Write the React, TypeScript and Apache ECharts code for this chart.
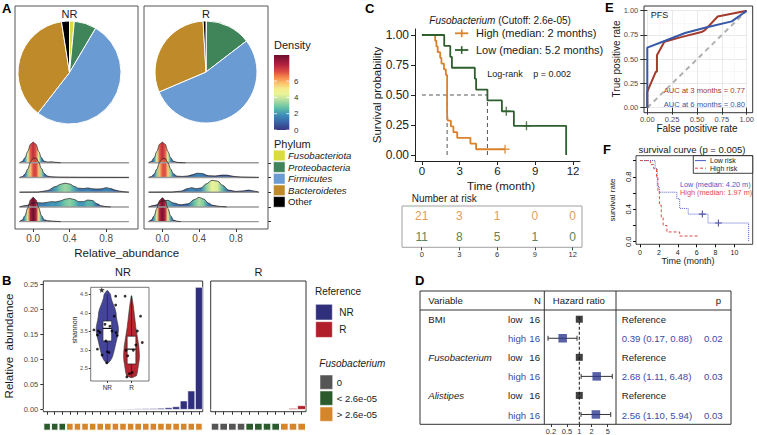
import React, { useEffect, useRef } from 'react';
import * as echarts from 'echarts';

const FONT = '"Liberation Sans", Arial, Helvetica, sans-serif';

/* ---------------- Panel A : pies + ridges ---------------- */
const PHYLA = ['Fusobacteriota', 'Proteobacteria', 'Firmicutes', 'Bacteroidetes', 'Other'];
const PHYLA_ITALIC = [true, true, true, true, false];
const PHYLA_COLORS = ['#D9DB3F', '#3F8559', '#6A9BD3', '#BF8A29', '#000000'];
const PIE_NR = [1.5, 7, 52, 37, 2.5];
const PIE_R = [0.1, 14.5, 54, 30.5, 0.9];
const DENSITY_TICKS = [0, 2, 4, 6];
const DENSITY_MAX = 9.2;
const RIDGE_X_TICKS = [0, 0.4, 0.8];

// [relative abundance, density] (rows top to bottom)
const RIDGE_NR_1 = [[-0.15, 0], [-0.12, 0.5], [-0.09, 1.9], [-0.06, 4.3], [-0.03, 7.0], [0, 7.8], [0.03, 7.0], [0.06, 4.3], [0.09, 1.9], [0.12, 0.6], [0.16, 0.25], [0.2, 0.35], [0.25, 0.15], [0.3, 0]];
const RIDGE_NR_2 = [[-0.15, 0], [-0.12, 0.3], [-0.09, 1.3], [-0.06, 3.2], [-0.03, 5.8], [0, 7.2], [0.03, 7.4], [0.06, 5.8], [0.09, 3.4], [0.12, 1.5], [0.16, 0.5], [0.2, 0.25], [0.3, 0.12], [0.5, 0.06], [0.7, 0.04], [1.05, 0]];
const RIDGE_NR_3 = [[-0.15, 0], [0.05, 0.05], [0.15, 0.6], [0.25, 2.2], [0.3, 3.0], [0.35, 3.4], [0.4, 3.1], [0.45, 2.2], [0.5, 1.5], [0.55, 1.4], [0.6, 1.6], [0.65, 1.3], [0.7, 1.2], [0.75, 1.3], [0.8, 1.7], [0.85, 1.4], [0.9, 0.8], [0.95, 0.4], [1.0, 0.15], [1.05, 0]];
const RIDGE_NR_4 = [[-0.15, 0], [-0.08, 0.5], [0, 1.5], [0.05, 1.6], [0.1, 1.5], [0.15, 1.7], [0.2, 2.0], [0.25, 1.9], [0.3, 2.3], [0.35, 2.9], [0.4, 3.2], [0.45, 2.8], [0.5, 2.0], [0.55, 2.0], [0.6, 2.6], [0.65, 2.4], [0.7, 1.2], [0.75, 0.4], [0.8, 0.1], [0.85, 0]];
const RIDGE_NR_5 = [[-0.15, 0], [-0.12, 0.6], [-0.09, 2.3], [-0.06, 5.2], [-0.03, 8.2], [0, 9.2], [0.03, 8.2], [0.06, 5.2], [0.09, 2.3], [0.12, 0.7], [0.16, 0.3], [0.2, 0.25], [0.25, 0.1], [0.3, 0]];
const RIDGE_R_1 = [[-0.15, 0], [-0.12, 0.5], [-0.09, 1.9], [-0.06, 4.3], [-0.03, 7.0], [0, 7.8], [0.03, 7.0], [0.06, 4.3], [0.09, 1.9], [0.12, 0.6], [0.16, 0.15], [0.2, 0.05], [0.25, 0]];
const RIDGE_R_2 = [[-0.15, 0], [-0.12, 0.3], [-0.09, 1.3], [-0.06, 3.2], [-0.03, 5.8], [0, 7.0], [0.03, 7.2], [0.06, 5.6], [0.09, 3.2], [0.12, 1.4], [0.16, 0.5], [0.22, 0.4], [0.28, 0.6], [0.32, 1.0], [0.38, 1.6], [0.43, 1.5], [0.5, 0.7], [0.58, 0.6], [0.65, 0.9], [0.7, 0.9], [0.78, 0.4], [0.85, 0.2], [0.95, 0.1], [1.05, 0]];
const RIDGE_R_3 = [[-0.15, 0], [0.1, 0.05], [0.2, 0.4], [0.28, 1.4], [0.32, 1.7], [0.37, 1.3], [0.42, 1.6], [0.48, 3.2], [0.54, 4.5], [0.6, 4.2], [0.66, 2.5], [0.72, 0.8], [0.8, 0.3], [0.88, 0.5], [0.94, 0.8], [1.0, 0.4], [1.05, 0]];
const RIDGE_R_4 = [[-0.15, 0], [-0.08, 0.6], [0, 2.2], [0.06, 2.5], [0.12, 1.5], [0.2, 0.8], [0.28, 1.2], [0.35, 2.8], [0.4, 3.6], [0.45, 3.0], [0.5, 1.5], [0.55, 0.6], [0.62, 0.2], [0.7, 0]];
const RIDGE_R_5 = [[-0.15, 0], [-0.12, 0.6], [-0.09, 2.2], [-0.06, 5.0], [-0.03, 8.0], [0, 9.0], [0.03, 8.0], [0.06, 5.0], [0.09, 2.2], [0.12, 0.6], [0.16, 0.15], [0.2, 0]];
const RIDGES_NR = [RIDGE_NR_1, RIDGE_NR_2, RIDGE_NR_3, RIDGE_NR_4, RIDGE_NR_5];
const RIDGES_R = [RIDGE_R_1, RIDGE_R_2, RIDGE_R_3, RIDGE_R_4, RIDGE_R_5];

/* ---------------- Panel B ---------------- */
const NR_ABUND = [0.0002, 0.0003, 0.0003, 0.0004, 0.0005, 0.0006, 0.0008, 0.001, 0.0012, 0.0015, 0.0018, 0.002, 0.0023, 0.0026, 0.003, 0.0035, 0.0045, 0.0065, 0.018, 0.038, 0.245];
const NR_FUSO = ['low', 'low', 'low', 'high', 'high', 'high', 'high', 'high', 'high', 'high', 'high', 'high', 'high', 'high', 'high', 'high', 'high', 'high', 'high', 'high', 'high'];
const R_ABUND = [0.0003, 0.0003, 0.0003, 0.0003, 0.0004, 0.0004, 0.0005, 0.0005, 0.0012, 0.0033, 0.0086];
const R_FUSO = ['zero', 'zero', 'zero', 'zero', 'low', 'low', 'low', 'low', 'high', 'high', 'high'];
const ABUND_TICKS = [0, 0.05, 0.1, 0.15, 0.2, 0.25];
const FUSO_LEVELS = ['zero', 'low', 'high'];
const FUSO_LABELS = ['0', '< 2.6e-05', '> 2.6e-05'];
const FUSO_COLORS = { zero: '#555555', low: '#2B5B2C', high: '#D5862B' };
const REF_GROUPS = ['NR', 'R'];
const REF_COLORS = { NR: '#2F2F7C', R: '#B01F2A' };

const SHANNON_TICKS = [2.5, 3, 3.5, 4, 4.5];
const SHANNON_POS = [0.57, 1.4];
const VIOLIN_NR_Y = [2.64, 2.7, 2.8, 2.9, 3.0, 3.1, 3.2, 3.3, 3.4, 3.5, 3.6, 3.7, 3.8, 3.9, 4.0, 4.1, 4.2, 4.3, 4.4, 4.5, 4.6];
const VIOLIN_NR_W = [0.02, 0.1, 0.17, 0.21, 0.24, 0.27, 0.3, 0.33, 0.36, 0.38, 0.38, 0.36, 0.33, 0.31, 0.3, 0.27, 0.22, 0.17, 0.13, 0.11, 0.02];
const VIOLIN_R_Y = [2.25, 2.3, 2.4, 2.5, 2.6, 2.7, 2.8, 2.9, 3.0, 3.1, 3.2, 3.4, 3.6, 3.8, 4.0, 4.2, 4.35, 4.46];
const VIOLIN_R_W = [0.02, 0.17, 0.2, 0.22, 0.24, 0.26, 0.27, 0.27, 0.26, 0.25, 0.23, 0.19, 0.15, 0.12, 0.09, 0.06, 0.03, 0.01];
const BOX_NR = [2.65, 3.24, 3.58, 3.78, 4.5];
const BOX_R = [2.27, 2.62, 3.02, 3.37, 4.45];
const SHANNON_NR_PTS = [[0.857, 4.45], [0.857, 4.21], [0.81, 3.91], [0.11, 3.54], [0.26, 3.51], [0.32, 3.47], [0.23, 3.4], [0.87, 3.47], [0.91, 3.39], [0.52, 3.24], [0.23, 3.02], [0.57, 2.95], [0.63, 2.93], [0.39, 2.86], [0.55, 2.65], [0.66, 3.64], [0.49, 3.69], [0.73, 3.51]];
const SHANNON_NR_STAR = [[0.38, 4.62]];
const SHANNON_R_PTS = [[1.18, 4.45], [1.71, 3.91], [1.6, 3.51], [1.77, 3.2], [1.21, 2.99], [1.27, 2.84], [1.46, 2.99], [1.33, 2.36], [1.42, 2.39], [1.24, 2.27], [1.55, 3.13]];

/* ---------------- Panel C ---------------- */
const KM_TICKS = [0, 3, 6, 9, 12];
const KM_Y_TICKS = [0, 0.25, 0.5, 0.75, 1];
const KM_HIGH_T = [0, 1.05, 1.15, 1.25, 1.45, 1.55, 1.75, 1.9, 2.0, 2.05, 2.3, 2.5, 2.8, 3.85, 4.3, 6.6];
const KM_HIGH_S = [1, 0.952, 0.905, 0.857, 0.81, 0.762, 0.714, 0.667, 0.333, 0.286, 0.238, 0.19, 0.143, 0.095, 0.048, 0.048];
const KM_LOW_T = [0, 1.77, 2.25, 2.38, 4.2, 4.3, 5.2, 6.35, 7.3, 11.45];
const KM_LOW_S = [1, 0.909, 0.818, 0.727, 0.636, 0.545, 0.455, 0.364, 0.243, 0];
const KM_HIGH_CENSOR = [[6.6, 0.048]];
const KM_LOW_CENSOR = [[6.7, 0.364], [8.3, 0.243]];
const MEDIAN_HIGH = 2.0;
const MEDIAN_LOW = 5.2;
const RISK_TIMES = [0, 3, 6, 9, 12];
const RISK_HIGH = [21, 3, 1, 0, 0];
const RISK_LOW = [11, 8, 5, 1, 0];
const KM_COLORS = { High: '#D9822B', Low: '#2F5E2F' };

/* ---------------- Panel E ---------------- */
const ROC3 = [[0, 0], [0, 0.165], [0.085, 0.37], [0.097, 0.37], [0.097, 0.54], [0.172, 0.68], [0.35, 0.73], [0.545, 0.78], [0.58, 0.8], [0.708, 0.94], [1, 1]];
const ROC6 = [[0, 0], [0, 0.62], [0.18, 0.69], [0.38, 0.77], [0.6, 0.83], [0.85, 0.89], [1, 1]];

/* ---------------- Panel F ---------------- */
const F_LOW_T = [0, 1.6, 1.83, 2.05, 3.9, 4.2, 5.1, 7.2, 11.5];
const F_LOW_S = [1, 0.9, 0.68, 0.61, 0.53, 0.41, 0.34, 0.23, 0];
const F_HIGH_T = [0, 1.1, 1.45, 1.75, 1.9, 2.05, 2.25, 2.45, 2.85, 4.2, 6.3];
const F_HIGH_S = [1, 0.95, 0.9, 0.8, 0.62, 0.45, 0.3, 0.2, 0.12, 0.07, 0.07];
const F_LOW_CENSOR = [[6.6, 0.34], [8.3, 0.23]];
const F_X_TICKS = [0, 2, 4, 6, 8, 10];
const F_Y_TICKS = [0, 0.2, 0.4, 0.6, 0.8, 1.0];
const F_Y_LABELS = [0, 0.4, 0.8];

/* ---------------- Panel D ---------------- */
const FOREST_VAR = ['BMI', '', 'Fusobacterium', '', 'Alistipes', ''];
const FOREST_VAR_ITALIC = [false, false, true, false, true, false];
const FOREST_LEVEL = ['low', 'high', 'low', 'high', 'low', 'high'];
const FOREST_N = [16, 16, 16, 16, 16, 16];
const FOREST_HR = [1, 0.39, 1, 2.68, 1, 2.56];
const FOREST_LO = [null, 0.17, null, 1.11, null, 1.10];
const FOREST_HI = [null, 0.88, null, 6.48, null, 5.94];
const FOREST_P = ['', '0.02', '', '0.03', '', '0.03'];
const FOREST_TICKS = [0.2, 0.5, 1, 2, 5];
const FOREST_XLIM = [0.1377, 8.0];

/* ---------------- helpers ---------------- */
const DENSITY_STOPS: [number, string][] = [[0, '#38367F'], [0.1, '#3A62A8'], [0.2, '#3B8FBA'], [0.3, '#66C2A5'], [0.4, '#B5DFA0'], [0.48, '#EAF49A'], [0.55, '#F5EB8C'], [0.62, '#FDC46C'], [0.7, '#F68B4E'], [0.78, '#DC4B42'], [0.88, '#AE1F3F'], [1, '#6D0F2E']];
function hexRgb(h: string) { const n = parseInt(h.slice(1), 16); return [(n >> 16) & 255, (n >> 8) & 255, n & 255]; }
function densityColor(d: number) {
  const t = Math.max(0, Math.min(1, d / DENSITY_MAX));
  for (let i = 1; i < DENSITY_STOPS.length; i++) {
    const [o1, c1] = DENSITY_STOPS[i - 1];
    const [o2, c2] = DENSITY_STOPS[i];
    if (t <= o2) {
      const a = hexRgb(c1), b = hexRgb(c2), f = (t - o1) / (o2 - o1);
      const c = a.map((v, k) => Math.round(v + (b[k] - v) * f));
      return `rgb(${c[0]},${c[1]},${c[2]})`;
    }
  }
  return DENSITY_STOPS[DENSITY_STOPS.length - 1][1];
}
function T(x: number, y: number, text: string, o: any = {}) {
  return {
    type: 'text', x, y, rotation: o.rot || 0, silent: true, z: o.z ?? 20,
    style: {
      text, fill: o.color || '#1a1a1a', fontSize: o.size || 10, fontFamily: FONT,
      fontStyle: o.italic ? 'italic' : 'normal', fontWeight: o.bold ? 'bold' : 'normal',
      align: o.align || 'left', textAlign: o.align || 'left', verticalAlign: 'middle', textVerticalAlign: 'middle',
      rich: o.rich,
    },
  };
}
function Rc(x: number, y: number, w: number, h: number, o: any = {}) {
  return { type: 'rect', silent: true, z: o.z ?? 5, shape: { x, y, width: w, height: h }, style: { fill: o.fill ?? 'none', stroke: o.stroke ?? null, lineWidth: o.lw ?? 1 } };
}
function Ln(x1: number, y1: number, x2: number, y2: number, o: any = {}) {
  return { type: 'line', silent: true, z: o.z ?? 20, shape: { x1, y1, x2, y2 }, style: { stroke: o.color || '#222', lineWidth: o.lw ?? 1, lineDash: o.dash || null } };
}
const zip = (a: number[], b: number[]) => a.map((v, i) => [v, b[i]]);
const PLUS = 'path://M-1,-0.16L-0.16,-0.16L-0.16,-1L0.16,-1L0.16,-0.16L1,-0.16L1,0.16L0.16,0.16L0.16,1L-0.16,1L-0.16,0.16L-1,0.16Z';
const STAR = 'path://M0,-1L0.22,-0.3L0.95,-0.3L0.36,0.12L0.58,0.8L0,0.38L-0.58,0.8L-0.36,0.12L-0.95,-0.3L-0.22,-0.3Z';
const lab = (size: number, color = '#4D4D4D') => ({ fontSize: size, color, fontFamily: FONT });

function buildOption() {
  const grid: any[] = [];
  const xAxis: any[] = [];
  const yAxis: any[] = [];
  const series: any[] = [];
  const graphic: any[] = [];

  // ---- grids ----
  grid.push({ left: 15, top: 126, width: 123, height: 103 });                // 0 ridge NR
  grid.push({ left: 144, top: 126, width: 124, height: 103 });               // 1 ridge R
  grid.push({ left: 43.3, top: 281, width: 159.4, height: 130.7, show: true, borderColor: '#333', borderWidth: 1 }); // 2 bars NR
  grid.push({ left: 210.7, top: 281, width: 95.3, height: 130.7, show: true, borderColor: '#333', borderWidth: 1 });  // 3 bars R
  grid.push({ left: 43.3, top: 422.7, width: 159.4, height: 8 });           // 4 strip NR
  grid.push({ left: 210.7, top: 422.7, width: 95.3, height: 8 });           // 5 strip R
  grid.push({ left: 90.7, top: 287.3, width: 58.3, height: 93.7, show: true, backgroundColor: '#fff', borderColor: '#555', borderWidth: 0.8 }); // 6 violin
  grid.push({ left: 415, top: 29, width: 165, height: 132 });               // 7 KM
  grid.push({ left: 402, top: 206, width: 180, height: 41.3, show: true, borderColor: '#A0A0A0', borderWidth: 1 }); // 8 risk table
  grid.push({ left: 647.3, top: 10.7, width: 102.7, height: 97 });          // 9 ROC
  const FG = { left: 636, top: 155.7, width: 116.7, height: 88.6 };
  grid.push({ ...FG, show: true, borderColor: '#111', borderWidth: 0.8 }); // 10 F
  grid.push({ left: 544.3, top: 309.7, width: 71.7, height: 114.8 });       // 11 forest

  const off = { axisLine: { show: false, onZero: false }, splitLine: { show: false } };

  // 0,1 ridge axes
  for (let g = 0; g < 2; g++) {
    xAxis.push({ gridIndex: g, type: 'value', min: -0.2, max: 1.15, ...off,
      axisTick: { show: true, customValues: RIDGE_X_TICKS, length: 3, lineStyle: { color: '#333' } },
      axisLabel: { show: true, customValues: RIDGE_X_TICKS, formatter: (v: number) => Number(v).toFixed(1), margin: 4, ...lab(10) } });
  }
  yAxis.push({ gridIndex: 0, type: 'value', min: -0.5, max: 6.5, show: false });
  yAxis.push({ gridIndex: 1, type: 'value', min: -0.5, max: 6.5, position: 'right', ...off,
    axisTick: { show: true, customValues: [0, 1, 2, 3, 4], length: 3, lineStyle: { color: '#333' } }, axisLabel: { show: false } });

  // 2,3 bars
  xAxis.push({ gridIndex: 2, type: 'category', data: NR_ABUND.map((_, i) => 'NR' + (i + 1)), ...off,
    axisTick: { show: true, alignWithLabel: true, interval: 0, length: 3, lineStyle: { color: '#333' } }, axisLabel: { show: false } });
  xAxis.push({ gridIndex: 3, type: 'category', data: R_ABUND.map((_, i) => 'R' + (i + 1)), ...off,
    axisTick: { show: true, alignWithLabel: true, interval: 0, length: 3, lineStyle: { color: '#333' } }, axisLabel: { show: false } });
  yAxis.push({ gridIndex: 2, type: 'value', min: -0.004, max: 0.257, ...off,
    axisTick: { show: true, customValues: ABUND_TICKS, length: 3, lineStyle: { color: '#333' } },
    axisLabel: { customValues: ABUND_TICKS, formatter: (v: number) => Number(v).toFixed(2), margin: 5, ...lab(7.5) } });
  yAxis.push({ gridIndex: 3, type: 'value', min: -0.004, max: 0.257, show: false });
  // 4,5 strips
  xAxis.push({ gridIndex: 4, type: 'category', data: NR_ABUND.map((_, i) => 'NR' + (i + 1)), show: false });
  xAxis.push({ gridIndex: 5, type: 'category', data: R_ABUND.map((_, i) => 'R' + (i + 1)), show: false });
  yAxis.push({ gridIndex: 4, type: 'value', min: 0, max: 1, show: false });
  yAxis.push({ gridIndex: 5, type: 'value', min: 0, max: 1, show: false });
  // 6 violin
  xAxis.push({ gridIndex: 6, type: 'value', min: 0, max: 2, ...off,
    axisTick: { show: true, customValues: SHANNON_POS, length: 2, lineStyle: { color: '#333' } },
    axisLabel: { customValues: SHANNON_POS, formatter: (v: number) => REF_GROUPS[v < 1 ? 0 : 1], margin: 3, ...lab(6.5, '#333') } });
  yAxis.push({ gridIndex: 6, type: 'value', min: 2.16, max: 4.69, ...off,
    axisTick: { show: true, customValues: SHANNON_TICKS, length: 2, lineStyle: { color: '#333' } },
    axisLabel: { customValues: SHANNON_TICKS, formatter: (v: number) => Number(v).toFixed(1), margin: 3, ...lab(5.5) } });
  // 7 KM
  xAxis.push({ gridIndex: 7, type: 'value', min: -0.55, max: 12.55, splitLine: { show: false },
    axisLine: { show: true, onZero: false, lineStyle: { color: '#222', width: 1 } },
    axisTick: { show: true, customValues: KM_TICKS, length: 4, lineStyle: { color: '#222' } },
    axisLabel: { customValues: KM_TICKS, margin: 3.5, ...lab(11.5, '#222') } });
  yAxis.push({ gridIndex: 7, type: 'value', min: -0.05, max: 1.05, splitLine: { show: false },
    axisLine: { show: true, onZero: false, lineStyle: { color: '#222', width: 1 } },
    axisTick: { show: true, customValues: KM_Y_TICKS, length: 4, lineStyle: { color: '#222' } },
    axisLabel: { customValues: KM_Y_TICKS, formatter: (v: number) => Number(v).toFixed(2), margin: 6, ...lab(12, '#222') } });
  // 8 risk table
  xAxis.push({ gridIndex: 8, type: 'value', min: -1.566, max: 12.74, ...off,
    axisTick: { show: true, customValues: RISK_TIMES, length: 3, lineStyle: { color: '#444' } },
    axisLabel: { customValues: RISK_TIMES, margin: 3, ...lab(7.5, '#333') } });
  yAxis.push({ gridIndex: 8, type: 'category', data: ['High', 'Low'], inverse: true, show: false });
  // 9 ROC
  xAxis.push({ gridIndex: 9, type: 'value', min: 0, max: 1, interval: 0.25, axisLine: { show: false, onZero: false },
    splitLine: { show: true, lineStyle: { color: '#E3E3E3', width: 0.8 } },
    minorTick: { show: false, splitNumber: 2 }, minorSplitLine: { show: true, lineStyle: { color: '#F3F3F3', width: 0.6 } },
    axisTick: { show: true, length: 7, lineStyle: { color: '#333' } },
    axisLabel: { formatter: (v: number) => Number(v).toFixed(2), margin: 8, ...lab(7.5) } });
  yAxis.push({ gridIndex: 9, type: 'value', min: 0, max: 1, interval: 0.25, axisLine: { show: false, onZero: false },
    splitLine: { show: true, lineStyle: { color: '#E3E3E3', width: 0.8 } },
    minorTick: { show: false, splitNumber: 2 }, minorSplitLine: { show: true, lineStyle: { color: '#F3F3F3', width: 0.6 } },
    axisTick: { show: true, length: 7, lineStyle: { color: '#333' } },
    axisLabel: { formatter: (v: number) => Number(v).toFixed(2), margin: 9, ...lab(7.5) } });
  // 10 F
  const F_YMIN = -0.032, F_YMAX = 1.06;
  xAxis.push({ gridIndex: 10, type: 'value', min: -0.423, max: 11.93, ...off,
    axisTick: { show: true, customValues: F_X_TICKS, length: 3, lineStyle: { color: '#111' } },
    axisLabel: { customValues: F_X_TICKS, margin: 5, ...lab(7, '#222') } });
  yAxis.push({ gridIndex: 10, type: 'value', min: F_YMIN, max: F_YMAX, ...off,
    axisTick: { show: true, customValues: F_Y_TICKS, length: 3, lineStyle: { color: '#111' } },
    axisLabel: { show: false } });
  // 11 forest
  const fTickLn = FOREST_TICKS.map((t) => Math.log(t));
  xAxis.push({ gridIndex: 11, type: 'value', min: Math.log(FOREST_XLIM[0]), max: Math.log(FOREST_XLIM[1]), ...off,
    axisTick: { show: true, customValues: fTickLn, length: 3, lineStyle: { color: '#333' } },
    axisLabel: { customValues: fTickLn, margin: 3, formatter: (v: number) => {
      const t = FOREST_TICKS.find((x) => Math.abs(Math.log(x) - v) < 1e-6); return t == null ? '' : String(t); }, ...lab(7.5, '#333') } });
  yAxis.push({ gridIndex: 11, type: 'value', min: -0.5, max: 5.5, inverse: true, show: false });

  // ---- Panel A series ----
  const pie = (data: number[], center: number[], r: number) => ({
    type: 'pie', center, radius: r, startAngle: 90, clockwise: true, silent: true, label: { show: false }, labelLine: { show: false },
    itemStyle: { borderColor: '#fff', borderWidth: 1 },
    data: PHYLA.map((n, i) => ({ name: n, value: data[i], itemStyle: { color: PHYLA_COLORS[i] } })),
  });
  series.push(pie(PIE_NR, [69.5, 72.5], 51.5));
  series.push(pie(PIE_R, [206, 72], 51));
  const RIDGE_SCALE = 0.18;
  [RIDGES_NR, RIDGES_R].forEach((rows, g) => {
    rows.forEach((pts, i) => {
      const base = 4 - i;
      series.push({ type: 'line', xAxisIndex: g, yAxisIndex: g, silent: true, symbol: 'none', data: [[-0.15, base], [1.05, base]],
        lineStyle: { color: '#9A9A9A', width: 1.4 } });
      const x0 = pts[0][0], x1 = pts[pts.length - 1][0];
      const stops = pts.map(([x, d]) => ({ offset: (x - x0) / (x1 - x0), color: densityColor(d) }));
      series.push({ type: 'line', xAxisIndex: g, yAxisIndex: g, silent: true, symbol: 'none', smooth: 0.35, smoothMonotone: 'x',
        data: pts.map(([x, d]) => [x, base + d * RIDGE_SCALE]),
        lineStyle: { color: '#1b1b1b', width: 0.7 },
        areaStyle: { origin: base, opacity: 1, color: new echarts.graphic.LinearGradient(0, 0, 1, 0, stops) } });
    });
  });

  // ---- Panel B series ----
  series.push({ type: 'bar', xAxisIndex: 2, yAxisIndex: 2, silent: true, data: NR_ABUND, barCategoryGap: '0%',
    itemStyle: { color: REF_COLORS.NR, borderColor: '#fff', borderWidth: 0.6 } });
  series.push({ type: 'bar', xAxisIndex: 3, yAxisIndex: 3, silent: true, data: R_ABUND, barCategoryGap: '0%',
    itemStyle: { color: REF_COLORS.R, borderColor: '#fff', borderWidth: 0.6 } });
  series.push({ type: 'bar', xAxisIndex: 4, yAxisIndex: 4, silent: true, barCategoryGap: '0%',
    data: NR_FUSO.map((f) => ({ value: 1, itemStyle: { color: FUSO_COLORS[f] } })), itemStyle: { borderColor: '#fff', borderWidth: 1 } });
  series.push({ type: 'bar', xAxisIndex: 5, yAxisIndex: 5, silent: true, barCategoryGap: '0%',
    data: R_FUSO.map((f) => ({ value: 1, itemStyle: { color: FUSO_COLORS[f] } })), itemStyle: { borderColor: '#fff', borderWidth: 1 } });
  const violin = (ys: number[], ws: number[], cx: number, color: string) => ({
    type: 'custom', xAxisIndex: 6, yAxisIndex: 6, silent: true, z: 3, data: [[cx, ys[0]]],
    renderItem: (_p: any, api: any) => {
      const pts: number[][] = [];
      ys.forEach((y, i) => pts.push(api.coord([cx + ws[i], y])));
      for (let i = ys.length - 1; i >= 0; i--) pts.push(api.coord([cx - ws[i], ys[i]]));
      return { type: 'polygon', shape: { points: pts }, style: { fill: color, stroke: '#333', lineWidth: 0.6 } };
    },
  });
  series.push(violin(VIOLIN_NR_Y, VIOLIN_NR_W, SHANNON_POS[0], '#44449A'));
  series.push(violin(VIOLIN_R_Y, VIOLIN_R_W, SHANNON_POS[1], '#B5262E'));
  series.push({ type: 'custom', xAxisIndex: 6, yAxisIndex: 6, silent: true, z: 4,
    data: [[SHANNON_POS[0], ...BOX_NR], [SHANNON_POS[1], ...BOX_R]],
    renderItem: (_p: any, api: any) => {
      const cx = api.value(0), hw = 0.15;
      const lo = api.coord([cx, api.value(1)]), hi = api.coord([cx, api.value(5)]);
      const q1l = api.coord([cx - hw, api.value(2)]), q3r = api.coord([cx + hw, api.value(4)]);
      const ml = api.coord([cx - hw, api.value(3)]), mr = api.coord([cx + hw, api.value(3)]);
      return { type: 'group', children: [
        { type: 'line', shape: { x1: lo[0], y1: lo[1], x2: hi[0], y2: hi[1] }, style: { stroke: '#222', lineWidth: 0.7 } },
        { type: 'rect', shape: { x: q1l[0], y: q3r[1], width: q3r[0] - q1l[0], height: q1l[1] - q3r[1] }, style: { fill: '#fff', stroke: '#222', lineWidth: 0.7 } },
        { type: 'line', shape: { x1: ml[0], y1: ml[1], x2: mr[0], y2: mr[1] }, style: { stroke: '#111', lineWidth: 1.2 } },
      ] };
    } });
  series.push({ type: 'scatter', xAxisIndex: 6, yAxisIndex: 6, silent: true, z: 5, symbolSize: 2.8, itemStyle: { color: '#000' },
    data: [...SHANNON_NR_PTS, ...SHANNON_R_PTS] });
  series.push({ type: 'scatter', xAxisIndex: 6, yAxisIndex: 6, silent: true, z: 5, symbol: STAR, symbolSize: 6, itemStyle: { color: '#000' },
    data: SHANNON_NR_STAR });

  // ---- Panel C series ----
  const dash = (data: number[][]) => ({ type: 'line', xAxisIndex: 7, yAxisIndex: 7, silent: true, symbol: 'none', data,
    lineStyle: { color: '#555', width: 1, type: [4, 3] } });
  series.push(dash([[0, 0.5], [MEDIAN_LOW, 0.5]]));
  series.push(dash([[MEDIAN_HIGH, 0], [MEDIAN_HIGH, 0.5]]));
  series.push(dash([[MEDIAN_LOW, 0], [MEDIAN_LOW, 0.5]]));
  series.push({ type: 'line', xAxisIndex: 7, yAxisIndex: 7, silent: true, symbol: 'none', step: 'end', data: zip(KM_HIGH_T, KM_HIGH_S),
    lineStyle: { color: KM_COLORS.High, width: 1.8 } });
  series.push({ type: 'line', xAxisIndex: 7, yAxisIndex: 7, silent: true, symbol: 'none', step: 'end', data: zip(KM_LOW_T, KM_LOW_S),
    lineStyle: { color: KM_COLORS.Low, width: 1.8 } });
  series.push({ type: 'scatter', xAxisIndex: 7, yAxisIndex: 7, silent: true, symbol: PLUS, symbolSize: 9, itemStyle: { color: KM_COLORS.High }, data: KM_HIGH_CENSOR });
  series.push({ type: 'scatter', xAxisIndex: 7, yAxisIndex: 7, silent: true, symbol: PLUS, symbolSize: 9, itemStyle: { color: KM_COLORS.Low }, data: KM_LOW_CENSOR });
  const risk = (vals: number[], row: number, color: string) => ({
    type: 'scatter', xAxisIndex: 8, yAxisIndex: 8, silent: true, symbolSize: 1, itemStyle: { color: 'rgba(0,0,0,0)' },
    data: RISK_TIMES.map((t, i) => [t, row, vals[i]]),
    label: { show: true, position: 'inside', formatter: (p: any) => String(p.data[2]), color, fontSize: 12, fontFamily: FONT },
  });
  series.push(risk(RISK_HIGH, 0, KM_COLORS.High));
  series.push(risk(RISK_LOW, 1, KM_COLORS.Low));

  // ---- Panel E series ----
  series.push({ type: 'line', xAxisIndex: 9, yAxisIndex: 9, silent: true, symbol: 'none', data: [[0, 0], [1, 1]],
    lineStyle: { color: '#B0B0B0', width: 2, type: [5, 4] } });
  series.push({ type: 'line', xAxisIndex: 9, yAxisIndex: 9, silent: true, symbol: 'none', data: ROC3, lineStyle: { color: '#A33A2C', width: 2 } });
  series.push({ type: 'line', xAxisIndex: 9, yAxisIndex: 9, silent: true, symbol: 'none', data: ROC6, lineStyle: { color: '#3558A8', width: 2 } });

  // ---- Panel F series ----
  series.push({ type: 'line', xAxisIndex: 10, yAxisIndex: 10, silent: true, symbol: 'none', step: 'end', data: zip(F_LOW_T, F_LOW_S),
    lineStyle: { color: '#5560C8', width: 1, type: 'dotted' } });
  series.push({ type: 'line', xAxisIndex: 10, yAxisIndex: 10, silent: true, symbol: 'none', step: 'end', data: zip(F_HIGH_T, F_HIGH_S),
    lineStyle: { color: '#DB4B4B', width: 1, type: [3, 2] } });
  series.push({ type: 'scatter', xAxisIndex: 10, yAxisIndex: 10, silent: true, symbol: PLUS, symbolSize: 7, itemStyle: { color: '#2A2A8A' }, data: F_LOW_CENSOR });

  // ---- Panel D series ----
  series.push({ type: 'line', xAxisIndex: 11, yAxisIndex: 11, silent: true, symbol: 'none', data: [[Math.log(1), -0.13], [Math.log(1), 5.5]],
    lineStyle: { color: '#111', width: 1, type: [3, 2] } });
  series.push({ type: 'custom', xAxisIndex: 11, yAxisIndex: 11, silent: true, z: 3,
    data: FOREST_HR.map((_, i) => i).filter((i) => FOREST_LO[i] != null).map((i) => [Math.log(FOREST_LO[i] as number), Math.log(FOREST_HI[i] as number), i]),
    renderItem: (_p: any, api: any) => {
      const a = api.coord([api.value(0), api.value(2)]), b = api.coord([api.value(1), api.value(2)]);
      const st = { stroke: '#333', lineWidth: 1 };
      return { type: 'group', children: [
        { type: 'line', shape: { x1: a[0], y1: a[1], x2: b[0], y2: b[1] }, style: st },
        { type: 'line', shape: { x1: a[0], y1: a[1] - 2.5, x2: a[0], y2: a[1] + 2.5 }, style: st },
        { type: 'line', shape: { x1: b[0], y1: b[1] - 2.5, x2: b[0], y2: b[1] + 2.5 }, style: st },
      ] };
    } });
  series.push({ type: 'scatter', xAxisIndex: 11, yAxisIndex: 11, silent: true, z: 5, symbol: 'rect',
    data: FOREST_HR.map((hr, i) => ({ value: [Math.log(hr), i], symbolSize: FOREST_LO[i] == null ? 7 : 8.5,
      itemStyle: { color: FOREST_LO[i] == null ? '#111' : '#2E3A8F' } })) });

  // ---- graphic: Panel A ----
  graphic.push(T(2, 8, 'A', { bold: true, size: 13, color: '#000' }));
  graphic.push(Rc(15, 6, 123, 223, { stroke: '#555', lw: 1 }));
  graphic.push(Rc(144, 6, 124, 223, { stroke: '#555', lw: 1 }));
  graphic.push(T(69.5, 14, 'NR', { align: 'center', size: 11 }));
  graphic.push(T(206, 14, 'R', { align: 'center', size: 11 }));
  graphic.push(T(126.7, 253, 'Relative_abundance', { align: 'center', size: 11.5 }));
  graphic.push(T(274, 45, 'Density', { size: 11 }));
  const cbTop = 55, cbH = 75;
  graphic.push({ type: 'rect', silent: true, z: 5, shape: { x: 274, y: cbTop, width: 15.3, height: cbH },
    style: { fill: new echarts.graphic.LinearGradient(0, 1, 0, 0, DENSITY_STOPS.map(([o, c]) => ({ offset: o, color: c }))) } });
  DENSITY_TICKS.forEach((v) => {
    const y = cbTop + cbH - (v / DENSITY_MAX) * cbH;
    graphic.push(T(294, y, String(v), { size: 8, color: '#333' }));
    graphic.push(Ln(274, y, 277, y, { color: '#fff', lw: 0.8 }));
    graphic.push(Ln(286.3, y, 289.3, y, { color: '#fff', lw: 0.8 }));
  });
  graphic.push(T(274, 144, 'Phylum', { size: 11 }));
  PHYLA.forEach((p, i) => {
    const y = 155.5 + i * 11.6;
    graphic.push(Rc(273.5, y - 5.3, 11.5, 10.6, { fill: PHYLA_COLORS[i], stroke: '#fff', lw: 0.5 }));
    graphic.push(T(288, y, p, { size: 9.6, italic: PHYLA_ITALIC[i] }));
  });

  // ---- graphic: Panel B ----
  graphic.push(T(2, 280, 'B', { bold: true, size: 13, color: '#000' }));
  graphic.push(T(123, 272, 'NR', { align: 'center', size: 11 }));
  graphic.push(T(258.5, 272, 'R', { align: 'center', size: 11 }));
  graphic.push(T(9, 346, 'Relative  abundance', { align: 'center', size: 11.5, rot: Math.PI / 2 }));
  graphic.push(T(74, 330, 'shannon', { align: 'center', size: 7, rot: Math.PI / 2 }));
  graphic.push(T(315, 291, 'Reference', { size: 10 }));
  REF_GROUPS.forEach((g, i) => {
    const y = 304.3 + i * 17.4;
    graphic.push(Rc(315.7, y, 16.6, 15.7, { fill: REF_COLORS[g], stroke: '#fff', lw: 0.5 }));
    graphic.push(T(339.3, y + 8.2, g, { size: 10 }));
  });
  graphic.push(T(319.3, 363.7, 'Fusobacterium', { size: 10, italic: true }));
  FUSO_LEVELS.forEach((f, i) => {
    const y = 375 + i * 16;
    graphic.push(Rc(320, y, 12.7, 14.3, { fill: FUSO_COLORS[f], stroke: '#fff', lw: 0.5 }));
    graphic.push(T(336.7, y + 7.7, FUSO_LABELS[i], { size: 9.5 }));
  });

  // ---- graphic: Panel C ----
  graphic.push(T(365, 8.3, 'C', { bold: true, size: 13, color: '#000' }));
  graphic.push(T(429.3, 20, '{i|Fusobacterium} (Cutoff: 2.6e-05)', { size: 10,
    rich: { i: { fontStyle: 'italic', fontSize: 10, fontFamily: FONT, fill: '#1a1a1a' } } }));
  graphic.push(T(377, 95, 'Survival probability', { align: 'center', size: 11.5, rot: Math.PI / 2 }));
  graphic.push(T(501, 185.5, 'Time (month)', { align: 'center', size: 11.5 }));
  [['High (median: 2 months)', KM_COLORS.High, 33.3], ['Low (median: 5.2 months)', KM_COLORS.Low, 50]].forEach(([txt, c, y]: any) => {
    graphic.push(Ln(455, y, 468.3, y, { color: c, lw: 1.8 }));
    graphic.push(Ln(461.7, y - 3.8, 461.7, y + 3.8, { color: c, lw: 1.6 }));
    graphic.push(T(476, y, txt, { size: 11 }));
  });
  graphic.push(T(487.3, 74, 'Log-rank', { size: 9 }));
  graphic.push(T(533.3, 74, 'p = 0.002', { size: 9 }));
  graphic.push(T(411.7, 198.3, 'Number at risk', { size: 10 }));

  // ---- graphic: Panel E ----
  graphic.push(T(605, 7.3, 'E', { bold: true, size: 13, color: '#000' }));
  graphic.push(Rc(644, 6, 108.7, 106.7, { stroke: '#333', lw: 1, z: 10 }));
  graphic.push(T(650.7, 15, 'PFS', { size: 9 }));
  graphic.push(T(616, 59, 'True positive rate', { align: 'center', size: 10, rot: Math.PI / 2 }));
  graphic.push(T(697, 128.3, 'False positive rate', { align: 'center', size: 10 }));
  graphic.push(T(745, 90.7, 'AUC at 3 months = 0.77', { align: 'right', size: 7.6, color: '#A33A2C' }));
  graphic.push(T(745, 104, 'AUC at 6 months = 0.80', { align: 'right', size: 7.6, color: '#3558A8' }));

  // ---- graphic: Panel F ----
  graphic.push(T(603, 149, 'F', { bold: true, size: 13, color: '#000' }));
  graphic.push(T(692, 149.5, 'survival curve (p = 0.005)', { align: 'center', size: 9.5 }));
  graphic.push(T(612.7, 200, 'survival rate', { align: 'center', size: 8, rot: Math.PI / 2 }));
  F_Y_LABELS.forEach((v) => {
    const y = FG.top + ((F_YMAX - v) / (F_YMAX - F_YMIN)) * FG.height;
    graphic.push(T(FG.left - 7.5, y, v.toFixed(1), { align: 'center', size: 7.5, color: '#111', rot: Math.PI / 2 }));
  });
  graphic.push(T(688, 261, 'Time (month)', { align: 'center', size: 9 }));
  graphic.push(Rc(693.3, 155.7, 59.4, 17.6, { fill: '#fff', stroke: '#111', lw: 0.8, z: 15 }));
  graphic.push(Ln(695, 160.6, 706, 160.6, { color: '#4B58C0', lw: 1 }));
  graphic.push(Ln(695, 168.2, 706, 168.2, { color: '#DB4B4B', lw: 1, dash: [3, 2] }));
  graphic.push(T(710, 160.6, 'Low risk', { size: 7 }));
  graphic.push(T(710, 168.2, 'High risk', { size: 7 }));
  graphic.push(T(680, 184, 'Low (median: 4.20 m)', { size: 7.3, color: '#4B58C0' }));
  graphic.push(T(680, 192.3, 'High (median: 1.97 m)', { size: 7.3, color: '#DB4B4B' }));

  // ---- graphic: Panel D ----
  graphic.push(T(415, 280, 'D', { bold: true, size: 13, color: '#000' }));
  const tL = 420, tR = 731, tT = 291, tH = 310, tB = 424.3;
  graphic.push(Ln(tL, tT, tR, tT, { color: '#333' }));
  graphic.push(Ln(tL, tH, tR, tH, { color: '#333' }));
  graphic.push(Ln(tL, tB, tR, tB, { color: '#333' }));
  graphic.push(Ln(tL, tT, tL, tB, { color: '#333' }));
  graphic.push(Ln(tR, tT, tR, tB, { color: '#333' }));
  graphic.push(Ln(544.3, tT, 544.3, tB, { color: '#333' }));
  graphic.push(Ln(616, tT, 616, tB, { color: '#333' }));
  graphic.push(T(428.3, 300, 'Variable', { size: 9.6 }));
  graphic.push(T(541, 300, 'N', { size: 9.6, align: 'right' }));
  graphic.push(T(552.7, 300, 'Hazard ratio', { size: 9.6 }));
  graphic.push(T(721, 300, 'p', { size: 9.6, align: 'right' }));
  const BLUE = '#3D4AA5';
  FOREST_HR.forEach((hr, i) => {
    const y = 319.3 + i * 19.14;
    const hi = FOREST_LO[i] != null;
    const c = hi ? BLUE : '#1a1a1a';
    if (FOREST_VAR[i]) graphic.push(T(428.3, y, FOREST_VAR[i], { size: 9.6, italic: FOREST_VAR_ITALIC[i] }));
    graphic.push(T(508, y, FOREST_LEVEL[i], { size: 9.6, color: c }));
    graphic.push(T(540, y, String(FOREST_N[i]), { size: 9.6, color: c, align: 'right' }));
    const est = hi ? `${hr.toFixed(2)} (${(FOREST_LO[i] as number).toFixed(2)}, ${(FOREST_HI[i] as number).toFixed(2)})` : 'Reference';
    graphic.push(T(621.7, y, est, { size: 9.6, color: c }));
    if (FOREST_P[i]) graphic.push(T(722.7, y, FOREST_P[i], { size: 9.6, color: c, align: 'right' }));
  });

  return {
    animation: false,
    backgroundColor: '#fff',
    textStyle: { fontFamily: FONT },
    grid, xAxis, yAxis, series, graphic,
  };
}

export default function App() {
  const ref = useRef<HTMLDivElement>(null);
  useEffect(() => {
    const chart = echarts.init(ref.current as HTMLDivElement, undefined, { renderer: 'svg' });
    chart.setOption(buildOption() as any);
    return () => chart.dispose();
  }, []);
  return <div ref={ref} style={{ position: 'absolute', left: 0, top: 0, width: 757, height: 435, background: '#fff' }} />;
}
